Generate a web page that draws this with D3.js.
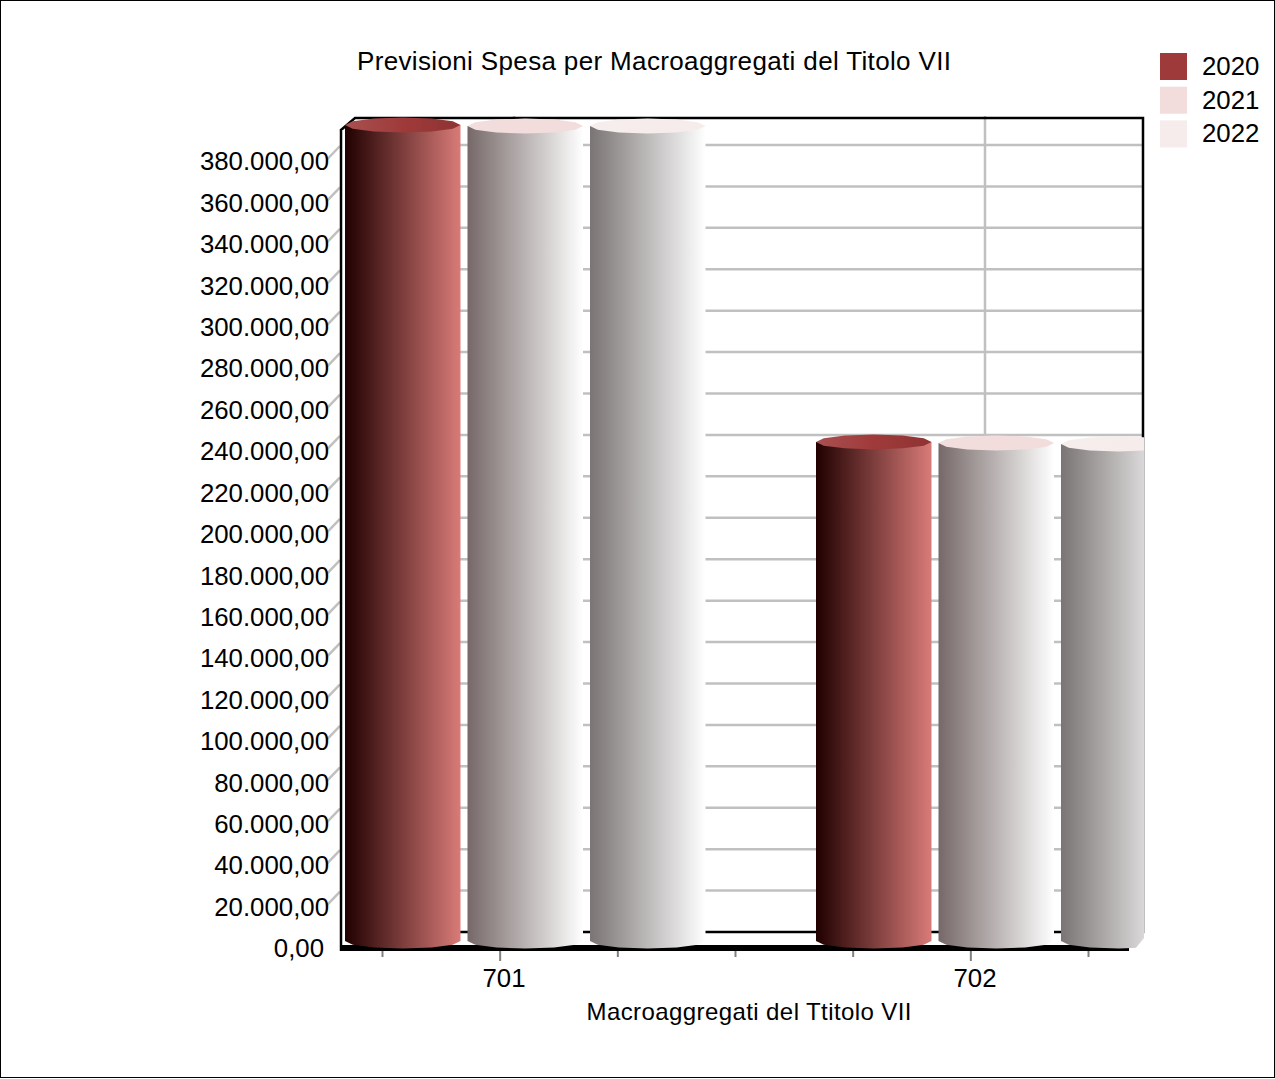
<!DOCTYPE html>
<html><head><meta charset="utf-8">
<script src="https://cdn.jsdelivr.net/npm/d3@7"></script>
<style>html,body{margin:0;background:#fff}svg{display:block}text{font-family:"Liberation Sans",Arial,sans-serif;fill:#000}</style>
</head><body><svg id="c" width="1275" height="1079"></svg>
<script>
const categories = ["701", "702"];
const seriesNames = ["2020", "2021", "2022"];
const values2020 = [394000, 241000];
const values2021 = [393500, 240500];
const values2022 = [393500, 240000];
const yTickValues = [0,20000,40000,60000,80000,100000,120000,140000,160000,180000,200000,220000,240000,260000,280000,300000,320000,340000,360000,380000];
const xMinorTicks = [0,1,2,3,4,5,6];
const xLongTicks = [1,5];
const legendColors = ["#9f3a3a","#f2dcdc","#f6ecec"];
const bodyStops = [["#200000","#d97b78"],["#766868","#ffffff"],["#7a7474","#ffffff"]];
const capStops = [["#a85050","#a03a3a","#8e3333"],["#f2dede","#f2dcdc","#f2dcdc"],["#f6eeee","#f6ecec","#f6ecec"]];
const seriesValues = [values2020, values2021, values2022];

const svg = d3.select("#c");
const defs = svg.append("defs");
const y = d3.scaleLinear().domain([0,380000]).range([946.5,159.5]);
const group = d3.scaleBand().domain(categories).range([268.5,1210.5]);
const inner = d3.scaleBand().domain(seriesNames).range([76.5,437]).paddingInner(7/122.5);
const minor = d3.scaleLinear().domain([0,6]).range([382,1088]);
const fmt = d3.formatLocale({decimal:",",thousands:".",grouping:[3],currency:["","€"]}).format(",.2f");
const backDy = -14.5, capRy = 7.5, lift = -5.5;
const gray = "#c0c0c0";

svg.append("rect").attr("x",0.5).attr("y",0.5).attr("width",1274).attr("height",1077).attr("fill","#fff").attr("stroke","#000");

svg.append("text").attr("x",357).attr("y",70).attr("font-size",26).attr("textLength",594).attr("lengthAdjust","spacing").text("Previsioni Spesa per Macroaggregati del Titolo VII");

// back wall
const wall = svg.append("g");
wall.selectAll(".g").data(yTickValues.filter(d=>d)).join("line").attr("x1",345).attr("x2",1143)
  .attr("y1",d=>y(d)+backDy).attr("y2",d=>y(d)+backDy).attr("stroke",gray).attr("stroke-width",2.5);
wall.selectAll(".v").data(categories).join("line")
  .attr("x1",d=>group(d)+245.5).attr("x2",d=>group(d)+245.5).attr("y1",116).attr("y2",932).attr("stroke",gray).attr("stroke-width",2.5);
wall.append("path").attr("d","M341,130 L355,118 H1143 V932 H355").attr("fill","none").attr("stroke","#000").attr("stroke-width",2.5);
// left side diagonal ticks
svg.append("g").selectAll("line").data(yTickValues.filter(d=>d)).join("line")
  .attr("x1",327).attr("x2",340).attr("y1",d=>y(d)).attr("y2",d=>y(d)+backDy+1)
  .attr("stroke",gray).attr("stroke-width",2.5);
// front frame
svg.append("rect").attr("x",341).attr("y",130).attr("width",4).attr("height",816).attr("fill","#fff");
svg.append("line").attr("x1",341).attr("x2",341).attr("y1",129).attr("y2",951).attr("stroke","#000").attr("stroke-width",2.5);
svg.append("rect").attr("x",340).attr("y",945).attr("width",789).attr("height",6).attr("fill","#000");

// x ticks
const xg = svg.append("g").attr("transform","translate(0,951)")
  .call(d3.axisBottom(minor).tickValues(xMinorTicks).tickFormat("").tickSize(6));
xg.select(".domain").remove();
xg.selectAll(".tick line").attr("stroke","#808080").attr("stroke-width",2)
  .attr("y2",d=>xLongTicks.includes(d)?10:6);

// bars: coarse polygon cylinders
function ringPoints(cx,cy,rx,ry,a0,a1,n){
  return d3.range(n+1).map(i=>{const a=a0+(a1-a0)*i/n;return [cx+rx*Math.cos(a),cy+ry*Math.sin(a)];});
}
const line = d3.line();
defs.append("clipPath").attr("id","plotclip").append("path").attr("d","M0,0 H1144 V938 L1135,949 H0 Z");
const barsG = svg.append("g").attr("clip-path","url(#plotclip)");
seriesNames.forEach((s,si)=>{
  const gb = defs.append("linearGradient").attr("id","b"+si);
  gb.append("stop").attr("offset",0).attr("stop-color",bodyStops[si][0]);
  gb.append("stop").attr("offset",1).attr("stop-color",bodyStops[si][1]);
  const gc = defs.append("linearGradient").attr("id","t"+si);
  capStops[si].forEach((c,i)=>gc.append("stop").attr("offset",i/2).attr("stop-color",c));
  categories.forEach((cat,ci)=>{
    const x0 = group(cat)+inner(s), w = inner.bandwidth(), cx = x0+w/2, rx = w/2;
    const topY = y(seriesValues[si][ci])+lift, botY = y(0)+lift;
    const lower = ringPoints(cx,botY,rx,capRy,0,Math.PI,6);
    barsG.append("path").attr("d",line([[x0+w,topY],...lower,[x0,topY]])+"Z").attr("fill",`url(#b${si})`);
    barsG.append("path").attr("d",line(ringPoints(cx,topY,rx,capRy,0,2*Math.PI,12))+"Z").attr("fill",`url(#t${si})`);
  });
});

// y axis labels
const ya = svg.append("g").attr("transform","translate(329,0)")
  .call(d3.axisLeft(y).tickValues(yTickValues).tickFormat(fmt).tickSize(0).tickPadding(0));
ya.select(".domain").remove();
ya.selectAll("text").attr("font-size",25.8).style("font-family",'"Liberation Sans",Arial,sans-serif')
  .attr("dy","0.4em").attr("dx",d=>d===0?-5:0);

// category labels
const xa = svg.append("g").attr("transform","translate(0,969)")
  .call(d3.axisBottom(group).tickSize(0).tickPadding(0));
xa.select(".domain").remove();
xa.selectAll("text").attr("font-size",25.8).style("font-family",'"Liberation Sans",Arial,sans-serif');

svg.append("text").attr("x",749).attr("y",1020).attr("text-anchor","middle").attr("font-size",24).attr("textLength",325).text("Macroaggregati del Ttitolo VII");

// legend
const lg = svg.append("g").selectAll("g").data(seriesNames).join("g").attr("transform",(d,i)=>`translate(1160,${53+i*33.7})`);
lg.append("rect").attr("width",27).attr("height",27).attr("fill",(d,i)=>legendColors[i]);
lg.append("text").attr("x",42).attr("y",22).attr("font-size",25.8).text(d=>d);
</script></body></html>
